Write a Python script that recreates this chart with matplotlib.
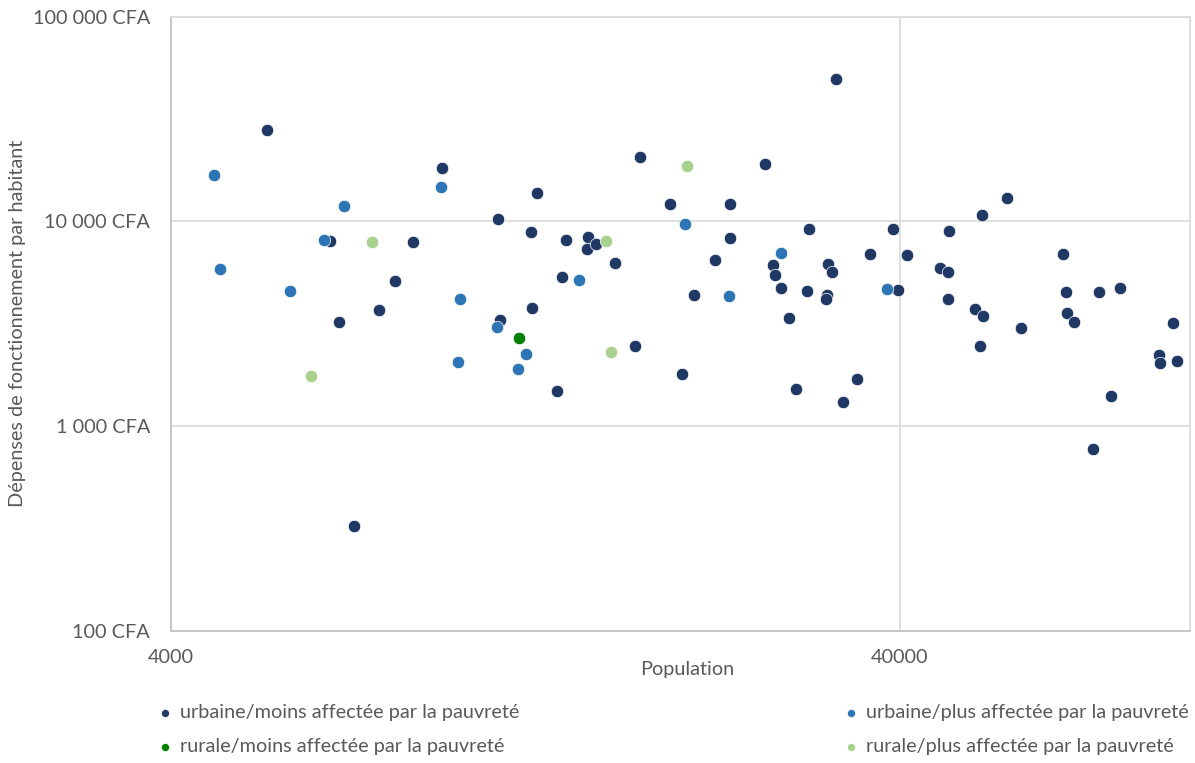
import matplotlib
matplotlib.use("Agg")
from matplotlib import pyplot as plt
from matplotlib.ticker import FuncFormatter, NullLocator
import numpy as np

# urbaine / moins affectée par la pauvreté
urb_moins_pop = [5420, 9410, 11220, 12720, 17600, 19330, 23360, 26090, 32680, 6600,
                 8600, 8120, 6810, 7710, 7120, 11310, 12470, 12510, 13910, 13750,
                 14940, 14900, 15330, 16280, 13520, 17300, 20070, 20850, 22320, 23360,
                 26760, 26920, 27440, 28150, 28800, 29850, 30030, 31870, 32270, 31790,
                 31690, 33440, 34890, 36420, 39090, 39750, 40890, 45360, 46540, 46690,
                 46540, 50690, 51990, 51450, 51870, 56150, 58570, 66860, 67620, 67780,
                 69370, 73680, 75080, 78000, 80170, 90750, 91040, 94670, 96040]
urb_moins_dep = [27950, 18290, 10300, 13800, 20560, 12120, 12120, 19070, 49610, 7990,
                 7930, 5100, 3210, 3690, 325, 3315, 8870, 3760, 8110, 5365,
                 8420, 7330, 7725, 6240, 1478, 2469, 1789, 4382, 6498, 8264,
                 6100, 5469, 4741, 3372, 1522, 4553, 9209, 6169, 5677, 4367,
                 4161, 1306, 1698, 6904, 9146, 4604, 6826, 5917, 5677, 8973,
                 4161, 3718, 3461, 2460, 10740, 12970, 3013, 6950, 4502, 3578,
                 3234, 772, 4502, 1402, 4741, 2216, 2039, 3177, 2078]

# urbaine / plus affectée par la pauvreté
urb_plus_pop = [4585, 4673, 5825, 6487, 6900, 9390, 9964, 9910, 11190, 11980,
                12290, 14530, 20260, 23280, 27440, 38430]
urb_plus_dep = [16900, 5870, 4568, 8107, 11890, 14670, 4161, 2055, 3047, 1900,
                2256, 5188, 9707, 4303, 7029, 4657]

# rurale / moins affectée par la pauvreté
rur_moins_pop = [12020]
rur_moins_dep = [2701]

# rurale / plus affectée par la pauvreté
rur_plus_pop = [6217, 7547, 15820, 16070, 20430]
rur_plus_dep = [1755, 7930, 8017, 2300, 18580]

series = [
    ("urbaine/moins affectée par la pauvreté", urb_moins_pop, urb_moins_dep, "#203864"),
    ("urbaine/plus affectée par la pauvreté", urb_plus_pop, urb_plus_dep, "#2e75b6"),
    ("rurale/moins affectée par la pauvreté", rur_moins_pop, rur_moins_dep, "#008000"),
    ("rurale/plus affectée par la pauvreté", rur_plus_pop, rur_plus_dep, "#a9d18e"),
]

y_ticks = [100, 1000, 10000, 100000]
x_ticks = [4000, 40000]

plt.rcParams['font.family'] = ['Lato', 'DejaVu Sans']
grey = "#595959"
fs = 14.3

fig = plt.figure(figsize=(11.95, 7.63), dpi=100)
ax = fig.add_axes([171 / 1195, 1 - 630.7 / 763, 1019 / 1195, 614 / 763])

handles = {}
for name, xs, ys, col in series:
    handles[name] = ax.scatter(xs, ys, s=80, color=col, edgecolors="white",
                               linewidths=0.5, zorder=3, label=name)

ax.set_xscale("log")
ax.set_yscale("log")
ax.set_xlim(4000, 100000)
ax.set_ylim(100, 100000)
ax.set_xticks(x_ticks)
ax.set_yticks(y_ticks)
ax.xaxis.set_minor_locator(NullLocator())
ax.yaxis.set_minor_locator(NullLocator())
ax.xaxis.set_major_formatter(FuncFormatter(lambda v, p: f"{int(round(v))}"))
ax.yaxis.set_major_formatter(FuncFormatter(
    lambda v, p: f"{int(round(v)):,}".replace(",", " ") + " CFA"))
ax.tick_params(length=0, labelsize=fs, colors=grey)
ax.tick_params(axis="y", pad=15)
ax.tick_params(axis="x", pad=13)
ax.grid(True, color="#d9d9d9", linewidth=1.2, zorder=0)
for sp in ax.spines.values():
    sp.set_color("#d9d9d9")
    sp.set_linewidth(1.2)
ax.spines["left"].set_color("#bfbfbf")
ax.spines["bottom"].set_color("#bfbfbf")

fig.text(18 / 1195, 1 - 323.7 / 763, "Dépenses de fonctionnement par habitant",
         rotation=90, ha="center", va="center", fontsize=fs, color=grey)
fig.text(687 / 1195, 1 - 669 / 763, "Population", ha="center", va="center",
         fontsize=fs, color=grey)

order = [series[0][0], series[2][0], series[1][0], series[3][0]]
leg = fig.legend([handles[n] for n in order], order, ncol=2, mode="expand",
                 loc="upper left", bbox_to_anchor=(158 / 1195, 1 - 712 / 763, 1031 / 1195, 0.01),
                 frameon=False, fontsize=fs, handlelength=0.7, handletextpad=0.4,
                 borderpad=0, borderaxespad=0, labelspacing=0.85, markerscale=0.65)
for t in leg.get_texts():
    t.set_color(grey)

fig.savefig("out.png", dpi=100)
